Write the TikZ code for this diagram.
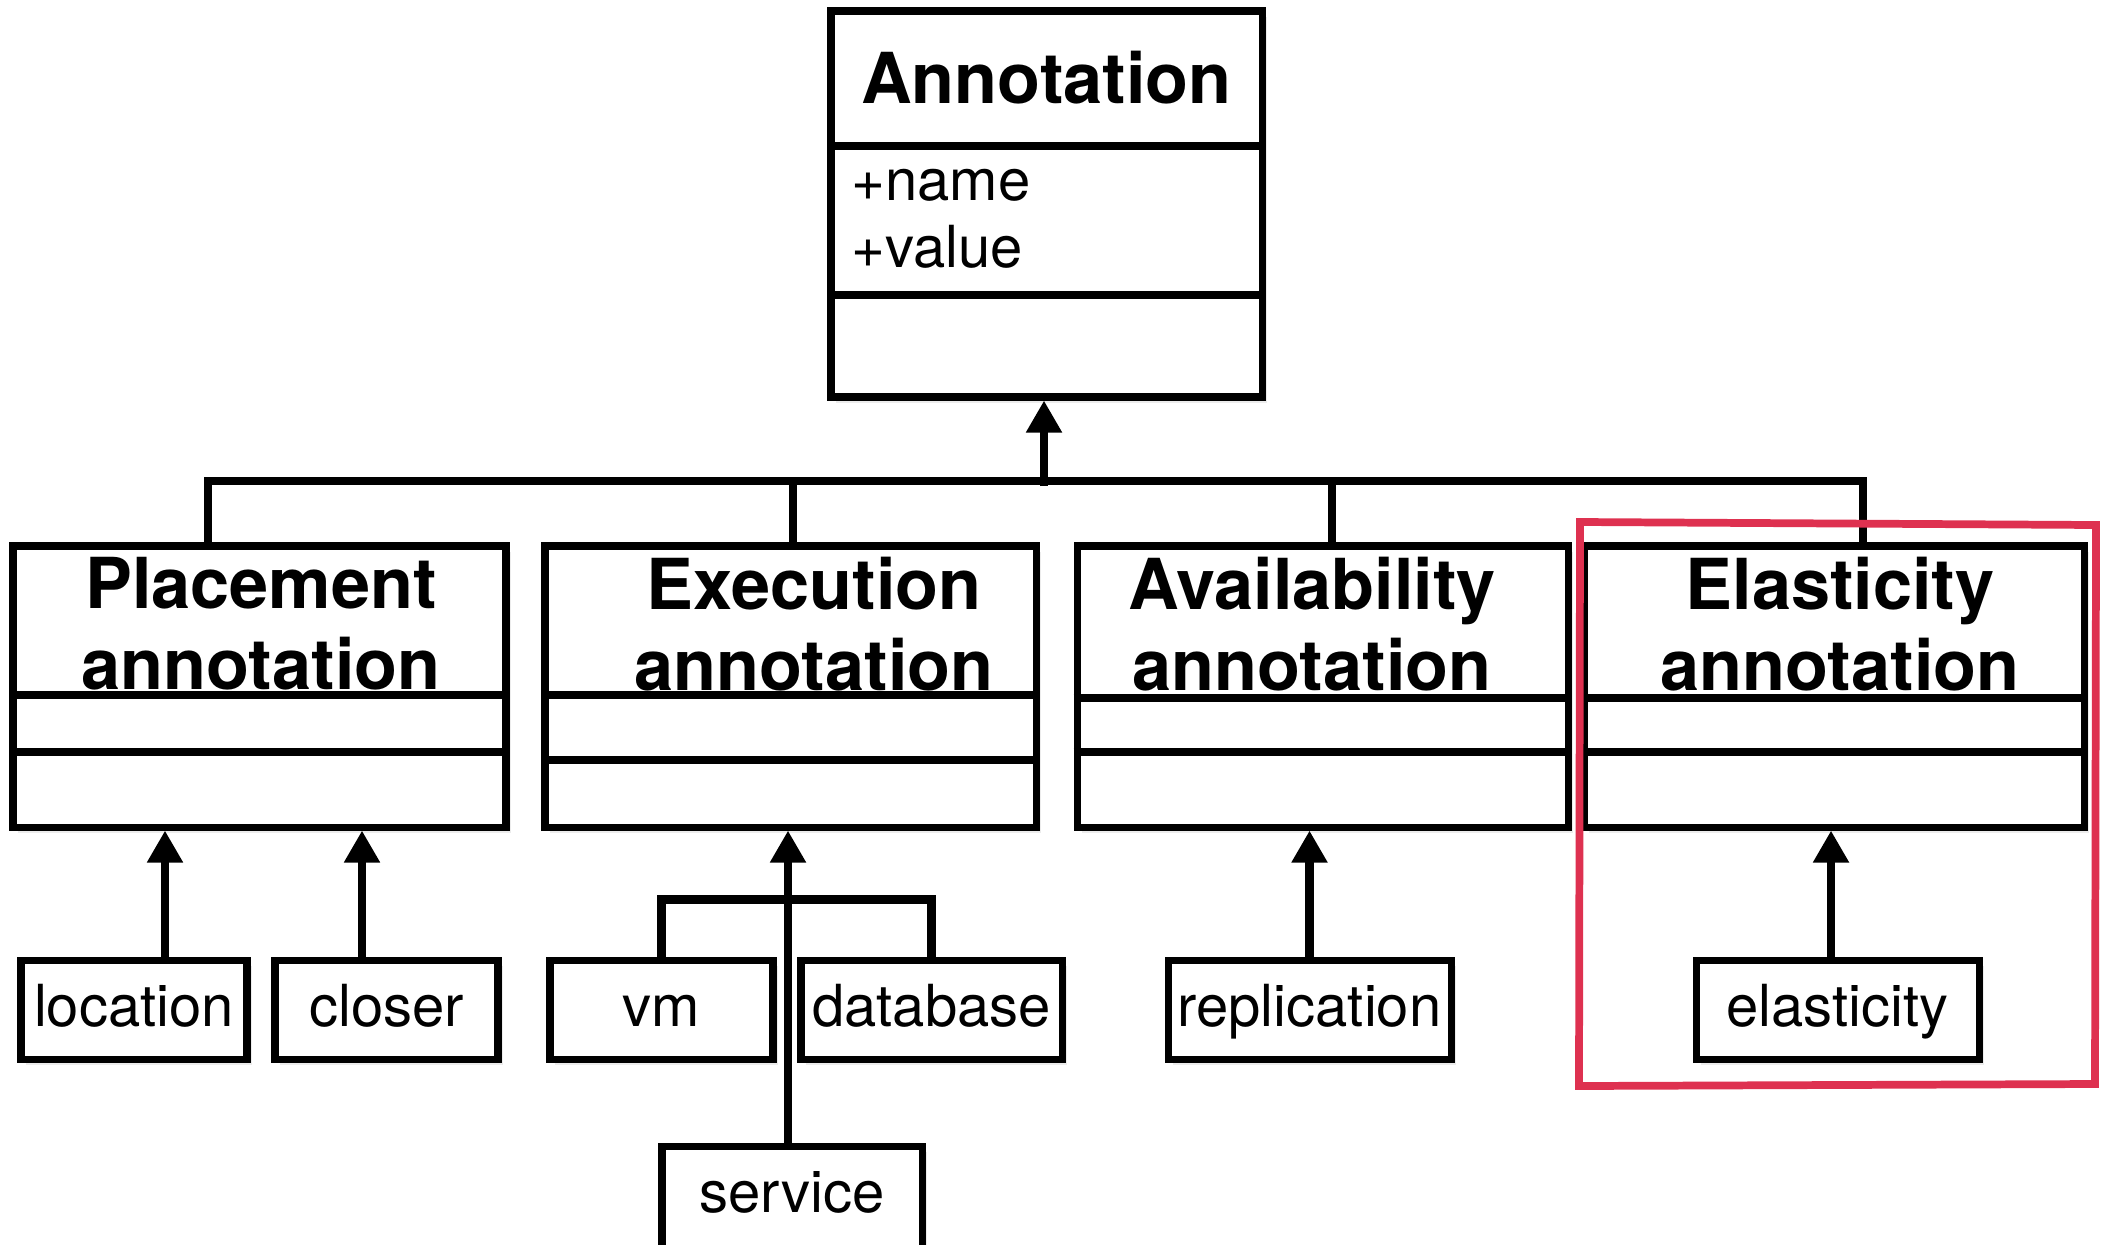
\documentclass[tikz,border=0pt]{standalone}
\usepackage{fontspec}
\setmainfont{TeX Gyre Heros}
\usepackage{tikz}
\usetikzlibrary{
    arrows.meta,
    shadows
}
\definecolor{markred}{RGB}{222,49,80}

\begin{document}
\begin{tikzpicture}[y=-1cm,
    line width=2pt,
    cls/.style={draw, fill=white, inner sep=0pt,
        drop shadow={opacity=0.15, shadow xshift=0.5mm, shadow yshift=-0.6mm}},
    leaf/.style={cls, minimum height=0.99cm, font=\fontsize{16.5}{19}\selectfont,
        text height=0.42cm, text depth=0.08cm},
    ttl/.style={font=\fontsize{20}{23}\selectfont\bfseries, align=center, inner sep=0pt},
    attr/.style={font=\fontsize{16.5}{19}\selectfont, inner sep=0pt, anchor=base west},
    link/.style={line width=2.3pt},
    inh/.style={link, -{Triangle[length=3.2mm, width=3.4mm]}}
    ]
    \useasboundingbox (0,0) rectangle (21.05,12.44);
    \clip (0,0) rectangle (21.05,12.44);

    \node[cls, minimum width=4.31cm, minimum height=3.86cm] (annot) at (10.465,2.04) {};
    \node[cls, minimum width=4.93cm, minimum height=2.81cm] (place) at (2.595,6.865) {};
    \node[cls, minimum width=4.91cm, minimum height=2.81cm] (exec) at (7.905,6.865) {};
    \node[cls, minimum width=4.91cm, minimum height=2.81cm] (avail) at (13.225,6.865) {};
    \node[cls, minimum width=5.00cm, minimum height=2.81cm] (elast) at (18.34,6.865) {};
    \foreach \n/\a/\b in {annot/1.385/2.875, place/1.525/2.095, exec/1.525/2.175,
                          avail/1.555/2.095, elast/1.555/2.095}
        \draw ([yshift=-\a cm]\n.north west) -- ([yshift=-\a cm]\n.north east)
              ([yshift=-\b cm]\n.north west) -- ([yshift=-\b cm]\n.north east);

    \node[ttl, anchor=base] (annottitle) at (10.465,1.03) {Annotation};
    \node[attr] (attrname) at (8.48,2.00) {+name};
    \node[attr] (attrvalue) at (8.48,2.67) {+value};
    \node[ttl] (placetitle) at (2.61,6.24) {Placement\\annotation};
    \node[ttl] (exectitle) at (8.14,6.24) {Execution\\annotation};
    \node[ttl] (availtitle) at (13.12,6.24) {Availability\\annotation};
    \node[ttl] (elasttitle) at (18.40,6.24) {Elasticity\\annotation};

    \node[leaf, minimum width=2.26cm] (location) at (1.34,10.095) {location};
    \node[leaf, minimum width=2.23cm] (closer) at (3.865,10.095) {closer};
    \node[leaf, minimum width=2.23cm] (vm) at (6.615,10.095) {vm};
    \node[leaf, minimum width=2.61cm] (database) at (9.315,10.095) {database};
    \node[leaf, minimum width=2.60cm, minimum height=1.14cm, text depth=0.24cm] (service) at (7.92,12.03) {service};
    \node[leaf, minimum width=2.83cm] (replication) at (13.095,10.095) {replication};
    \node[leaf, minimum width=2.83cm] (elasticity) at (18.375,10.095) {elasticity};

    \coordinate (busL) at (2.08,4.81);
    \coordinate (busE) at (7.93,4.81);
    \coordinate (busA) at (13.32,4.81);
    \coordinate (busR) at (18.63,4.81);
    \coordinate (hub) at (10.44,4.86);
    \draw[link] (busL |- place.north) -- (busL) -- (busR) -- (busR |- elast.north);
    \draw[link] (busE) -- (busE |- exec.north);
    \draw[link] (busA) -- (busA |- avail.north);
    \draw[inh] (hub) -- (hub |- annot.south);

    \draw[inh] ([xshift=3.1mm]location.north) -- ([xshift=3.1mm]location.north |- place.south);
    \draw[inh] ([xshift=-2.45mm]closer.north) -- ([xshift=-2.45mm]closer.north |- place.south);
    \draw[link] (vm.north) -- ++(0,-0.57) -| (database.north);
    \draw[inh] ([xshift=-0.4mm]service.north) -- ([xshift=-0.4mm]service.north |- exec.south);
    \draw[inh] (replication.north) -- (replication.north |- avail.south);
    \draw[inh] ([xshift=-0.65mm]elasticity.north) -- ([xshift=-0.65mm]elasticity.north |- elast.south);

    \draw[markred, line width=2.2pt] (15.80,5.22) -- (20.96,5.25) -- (20.95,10.84) -- (15.79,10.86) -- cycle;
\end{tikzpicture}
\end{document}
